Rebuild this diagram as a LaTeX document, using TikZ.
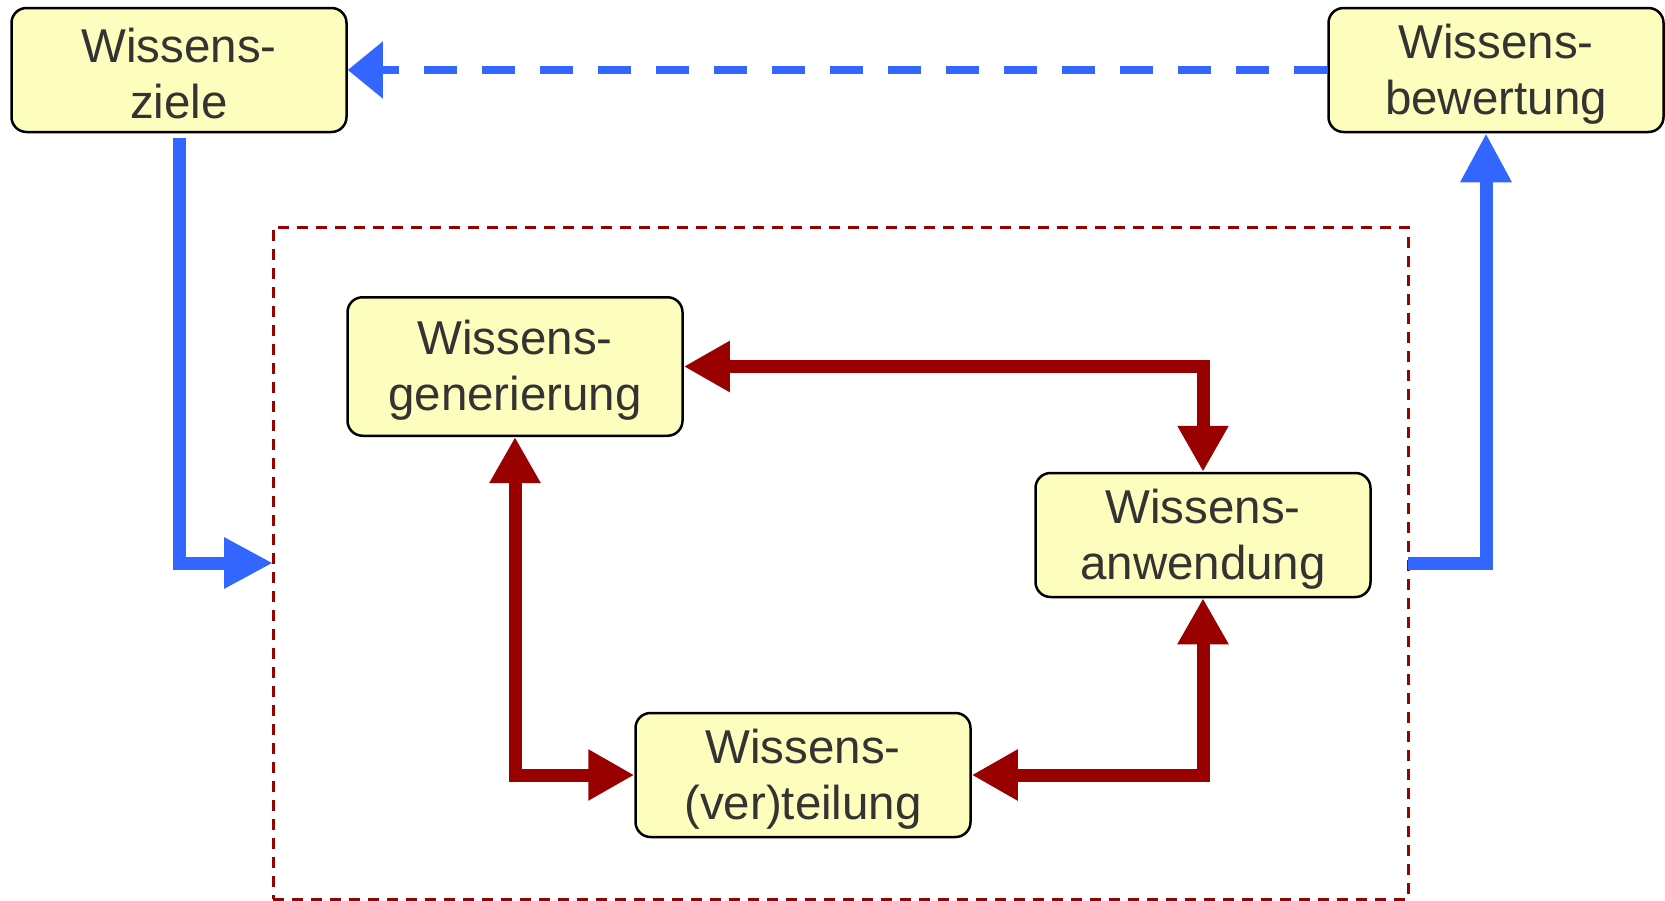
\documentclass[tikz,border=0pt]{standalone}
\usepackage{fontspec}
\setmainfont{Liberation Sans}
\usetikzlibrary{arrows.meta}
\definecolor{boxfill}{RGB}{253,253,189}
\definecolor{txtgray}{RGB}{51,51,51}
\definecolor{flowblue}{RGB}{51,102,255}
\definecolor{darkred}{RGB}{153,0,0}
\newcommand{\lowstrut}{\rule{0pt}{42pt}}
\begin{document}
\begin{tikzpicture}[x=1pt,y=-1pt,
  box/.style={draw=black, line width=2.5pt, fill=boxfill, rounded corners=15pt,
    minimum width=335pt, minimum height=124pt, inner sep=0pt, align=center,
    text=txtgray, font=\fontsize{47.5}{56}\selectfont},
  groupframe/.style={draw=darkred, line width=3pt, dash pattern=on 11pt off 8pt,
    minimum width=1135pt, minimum height=672pt, inner sep=0pt, outer sep=0pt},
  redarrow/.style={draw=darkred, line width=13pt,
    {Triangle[length=46pt,width=48pt]}-{Triangle[length=46pt,width=48pt]}},
  bluearrow/.style={draw=flowblue, line width=13pt, -{Triangle[length=49pt,width=48pt]}},
  bluedash/.style={draw=flowblue, line width=8pt, dash pattern=on 33pt off 25pt,
    -{Triangle[length=35pt,width=55pt]}}
]
\useasboundingbox (0,0) rectangle (1665,900);

\node[groupframe] (frame) at (840.5,563) {};

\node[box] (ziele) at (179,70) {\lowstrut Wissens-\\ziele};
\node[box] (bewertung) at (1496,70) {\lowstrut Wissens-\\bewertung};
\node[box, minimum height=138.5pt] (gen) at (515,366.5) {\lowstrut Wissens-\\generierung};
\node[box] (anw) at (1203,535) {\lowstrut Wissens-\\anwendung};
\node[box] (vert) at (803,775) {\lowstrut Wissens-\\(ver)teilung};

\draw[bluedash] (bewertung.west) -- (ziele.east);
\draw[bluearrow] ([yshift=-5pt]ziele.south) |- (frame.west);
\draw[bluearrow] (frame.east) -| ([xshift=-10pt]bewertung.south);

\draw[redarrow] (gen.east) -| (anw.north);
\draw[redarrow] (gen.south) |- (vert.west);
\draw[redarrow] (vert.east) -| (anw.south);
\end{tikzpicture}
\end{document}
